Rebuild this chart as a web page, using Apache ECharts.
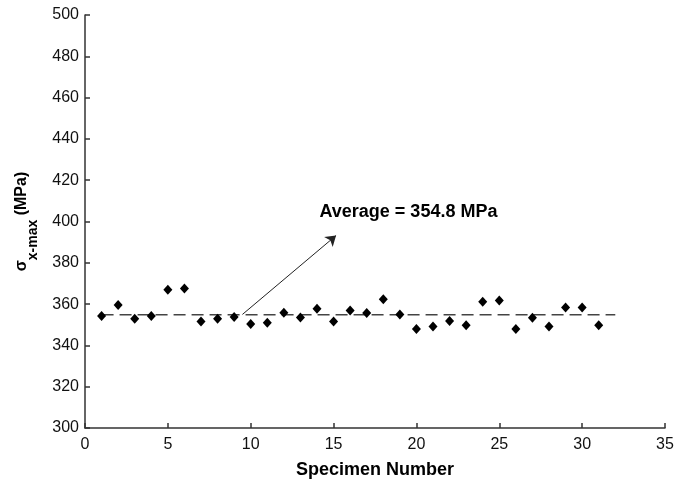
<!DOCTYPE html>
<html>
<head>
<meta charset="utf-8">
<script src="https://cdn.jsdelivr.net/npm/echarts@6/dist/echarts.min.js"></script>
<style>
  html, body { margin: 0; padding: 0; background: #fff; }
  #chart { width: 686px; height: 484px; }
</style>
</head>
<body>
<div id="chart"></div>
<script>
// specimen numbers and max stress values (MPa)
const specimens = [1, 2, 3, 4, 5, 6, 7, 8, 9, 10, 11, 12, 13, 14, 15, 16,
  17, 18, 19, 20, 21, 22, 23, 24, 25, 26, 27, 28, 29, 30, 31]
const stress = [354.2, 359.6, 352.9, 354.2, 367.0, 367.6, 351.6, 352.9, 353.7, 350.4,
  351.0, 355.8, 353.5, 357.7, 351.6, 356.9, 355.7, 362.4, 355.0, 347.9,
  349.1, 351.8, 349.7, 361.1, 361.7, 347.9, 353.4, 349.1, 358.4, 358.4, 349.7]

const average = 354.8
const avgSpan = [1, 32]
const arrowFrom = [9.5, 355]
const arrowTo = [15.15, 393.2]
const labelAt = [14.15, 404.6]
const labelText = 'Average = 354.8 MPa'

const xTicks = { min: 0, max: 35, interval: 5 }
const yTicks = { min: 300, max: 500, interval: 20 }

const axisColor = '#333'
const font = '"Liberation Sans", Arial, sans-serif'

const chart = echarts.init(document.getElementById('chart'), null, { renderer: 'canvas' })

const option = {
  backgroundColor: '#fff',
  animation: false,
  grid: { left: 85, right: 21, top: 15, bottom: 52 },
  xAxis: {
    type: 'value',
    min: xTicks.min, max: xTicks.max, interval: xTicks.interval,
    name: 'Specimen Number',
    nameLocation: 'middle',
    nameGap: 33,
    nameTextStyle: { color: '#000', fontFamily: font, fontSize: 18, fontWeight: 'bold' },
    axisLine: { onZero: false, lineStyle: { color: axisColor, width: 1.5 } },
    axisTick: { show: true, inside: true, length: 5, lineStyle: { color: axisColor, width: 1.5 } },
    axisLabel: { color: '#111', fontFamily: font, fontSize: 16, margin: 9 },
    splitLine: { show: false }
  },
  yAxis: {
    type: 'value',
    min: yTicks.min, max: yTicks.max, interval: yTicks.interval,
    name: '{m|σ}{sub|x-max}{m| (MPa)}',
    nameLocation: 'middle',
    nameRotate: 90,
    nameGap: 45,
    nameTextStyle: {
      color: '#000',
      rich: {
        m: { fontFamily: font, fontSize: 16, fontWeight: 'bold', lineHeight: 26, verticalAlign: 'top' },
        sub: { fontFamily: font, fontSize: 14, fontWeight: 'bold', lineHeight: 26, verticalAlign: 'bottom' }
      }
    },
    axisLine: { show: true, onZero: false, lineStyle: { color: axisColor, width: 1.5 } },
    axisTick: { show: true, inside: true, length: 5, lineStyle: { color: axisColor, width: 1.5 } },
    axisLabel: { color: '#111', fontFamily: font, fontSize: 16, margin: 6 },
    splitLine: { show: false }
  },
  series: [
    {
      name: 'average',
      type: 'line',
      data: avgSpan.map(x => [x, average]),
      symbol: 'none',
      lineStyle: { color: '#444', width: 1.5, type: [12, 6] },
      z: 1,
      markLine: {
        silent: true,
        symbol: ['none', 'arrow'],
        symbolSize: 10,
        label: { show: false },
        lineStyle: { color: '#222', width: 1, type: 'solid' },
        data: [[{ coord: arrowFrom }, { coord: arrowTo }]]
      }
    },
    {
      name: 'stress',
      type: 'scatter',
      data: specimens.map((s, i) => [s, stress[i]]),
      symbol: 'diamond',
      symbolSize: [9, 10],
      itemStyle: { color: '#000', opacity: 1 },
      z: 3
    },
    {
      name: 'label',
      type: 'scatter',
      data: [labelAt],
      symbolSize: 0,
      silent: true,
      itemStyle: { opacity: 1 },
      label: {
        show: true,
        position: 'right',
        distance: 0,
        formatter: labelText,
        color: '#000',
        opacity: 1,
        fontFamily: font,
        fontSize: 18,
        fontWeight: 'bold'
      }
    }
  ]
}

chart.setOption(option)
</script>
</body>
</html>
